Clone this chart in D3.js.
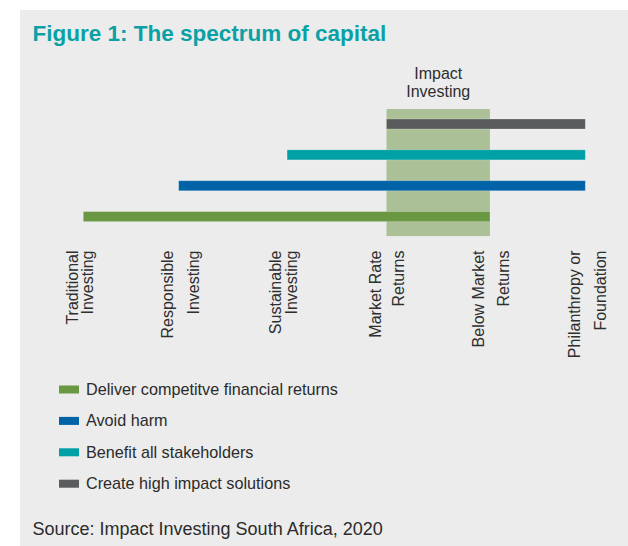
<!DOCTYPE html>
<html>
<head>
<meta charset="utf-8">
<script src="https://cdn.jsdelivr.net/npm/d3@7/dist/d3.min.js"></script>
<style>
  html, body { margin: 0; padding: 0; background: #ffffff; }
  svg { display: block; font-family: "Liberation Sans", Arial, Helvetica, sans-serif; }
</style>
</head>
<body>
<div id="chart"></div>
<script>
// Stops along the spectrum of capital (position on a 0–5 scale)
const stopLabels = [
  ["Traditional", "Investing"],
  ["Responsible", "Investing"],
  ["Sustainable", "Investing"],
  ["Market Rate", "Returns"],
  ["Below Market", "Returns"],
  ["Philanthropy or", "Foundation"]
];
const stopPositions = [0, 0.95, 2.03, 3.02, 4.05, 5];

// Each objective spans a range of the spectrum
const seriesNames = [
  "Deliver competitve financial returns",
  "Avoid harm",
  "Benefit all stakeholders",
  "Create high impact solutions"
];
const seriesStart = [0, 0.95, 2.03, 3.02];
const seriesEnd = [4.05, 5, 5, 5];
const seriesColors = ["#6a9741", "#0063a8", "#00a0a7", "#5a5b5d"];

// Impact investing zone
const impactLabel = ["Impact", "Investing"];
const impactRange = [3.02, 4.05];

const titleText = "Figure 1: The spectrum of capital";
const sourceText = "Source: Impact Investing South Africa, 2020";

// Extra gap between the two lines of each stop label
const labelLineGap = [15.8, 26, 16, 23, 24.3, 26.8];

const W = 628, H = 546;
const svg = d3.select("#chart").append("svg")
  .attr("width", W).attr("height", H);

// panel background
svg.append("rect")
  .attr("x", 20).attr("y", 10)
  .attr("width", W - 20).attr("height", H - 10)
  .attr("fill", "#ececec");

svg.append("text")
  .attr("x", 32.5).attr("y", 41)
  .attr("fill", "#0aa1a6")
  .attr("font-size", 22.5)
  .attr("font-weight", "bold")
  .text(titleText);

const x = d3.scaleLinear().domain([0, 5]).range([83.3, 585.3]);

// top-to-bottom row order: last series on top
const rowOrder = seriesNames.slice().reverse();
const y = d3.scalePoint().domain(rowOrder).range([124, 216.6]);
const barH = 10;

// impact zone band
svg.append("rect")
  .attr("x", x(impactRange[0]))
  .attr("width", x(impactRange[1]) - x(impactRange[0]))
  .attr("y", y(rowOrder[0]) - 15)
  .attr("height", y(rowOrder[rowOrder.length - 1]) + 19.5 - (y(rowOrder[0]) - 15))
  .attr("fill", "#abc097");

const impactG = svg.append("text")
  .attr("text-anchor", "middle")
  .attr("fill", "#2e2e2e")
  .attr("font-size", 16);
impactLabel.forEach((t, i) => {
  impactG.append("tspan")
    .attr("x", (x(impactRange[0]) + x(impactRange[1])) / 2)
    .attr("y", 79 + i * 17.5)
    .text(t);
});

// bars
const rows = seriesNames.map((name, i) => ({
  name, start: seriesStart[i], end: seriesEnd[i], color: seriesColors[i]
}));

svg.append("g").selectAll("rect")
  .data(rows)
  .join("rect")
  .attr("x", d => x(d.start))
  .attr("width", d => x(d.end) - x(d.start))
  .attr("y", d => y(d.name) - barH / 2)
  .attr("height", barH)
  .attr("fill", d => d.color)
  .attr("stroke", "#ffffff")
  .attr("stroke-opacity", 0.25)
  .attr("stroke-width", 0.8);

// rotated stop labels, top-aligned below the chart
const labelTop = 250.5;
const stopG = svg.append("g")
  .attr("fill", "#2e2e2e")
  .attr("font-size", 16);

stopLabels.forEach((lines, i) => {
  const cx = x(stopPositions[i]);
  lines.forEach((t, j) => {
    const bx = cx - 5.7 + (j === 0 ? 0 : labelLineGap[i]);
    stopG.append("text")
      .attr("transform", `translate(${bx},${labelTop}) rotate(-90)`)
      .attr("text-anchor", "end")
      .text(t);
  });
});

// legend
const legend = svg.append("g")
  .attr("font-size", 16.2)
  .attr("fill", "#2b2b2b");
rows.forEach((d, i) => {
  const by = 395 + i * 31.4;
  legend.append("rect")
    .attr("x", 59).attr("y", by - 9.5)
    .attr("width", 20).attr("height", 8)
    .attr("fill", d.color);
  legend.append("text")
    .attr("x", 86).attr("y", by)
    .text(d.name);
});

svg.append("text")
  .attr("x", 32.5).attr("y", 534.5)
  .attr("font-size", 18)
  .attr("fill", "#2b2b2b")
  .text(sourceText);
</script>
</body>
</html>
